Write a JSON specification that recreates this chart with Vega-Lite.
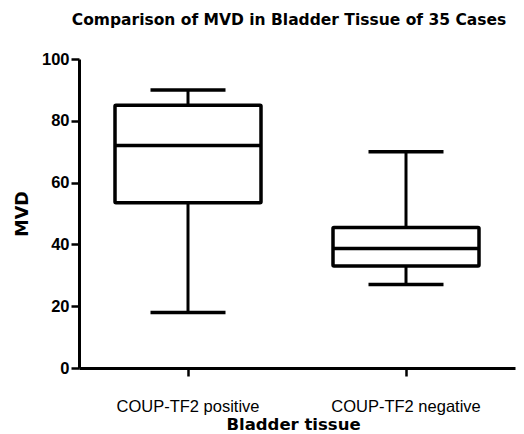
{
  "$schema": "https://vega.github.io/schema/vega-lite/v6.json",
  "width": 436,
  "height": 309,
  "autosize": {"type": "none"},
  "padding": {"left": 79, "top": 59, "right": 9, "bottom": 66},
  "background": "white",
  "title": {
    "text": "Comparison of MVD in Bladder Tissue of 35 Cases",
    "font": "DejaVu Sans",
    "fontSize": 15.5,
    "fontWeight": "bold",
    "color": "black",
    "anchor": "middle",
    "dx": -8,
    "offset": 23
  },
  "config": {
    "view": {"stroke": null},
    "axis": {"grid": false, "domainColor": "black", "tickColor": "black", "labelColor": "black", "titleColor": "black", "labelFont": "Liberation Sans", "titleFont": "DejaVu Sans"}
  },
  "data": {
    "values": [
      {"group": "COUP-TF2 positive", "min": 18, "q1": 53.5, "median": 72, "q3": 85, "max": 90},
      {"group": "COUP-TF2 negative", "min": 27, "q1": 33, "median": 38.7, "q3": 45.5, "max": 70}
    ]
  },
  "encoding": {
    "x": {
      "field": "group",
      "type": "nominal",
      "sort": ["COUP-TF2 positive", "COUP-TF2 negative"],
      "scale": {"paddingInner": 0, "paddingOuter": 0},
      "axis": {
        "title": "Bladder tissue",
        "titleFontSize": 16.5,
        "titleFontWeight": "bold",
        "titlePadding": 2,
        "titleX": 214,
        "labelAngle": 0,
        "labelFontSize": 16.5,
        "labelFontWeight": "normal",
        "labelPadding": 22,
        "domainWidth": 3,
        "tickWidth": 2.5,
        "tickSize": 8
      }
    }
  },
  "layer": [
    {
      "mark": {"type": "rule", "strokeWidth": 3, "color": "black"},
      "encoding": {
        "y": {"field": "min", "type": "quantitative", "scale": {"domain": [0, 100]},
          "axis": {"title": "MVD", "titleFontSize": 17.5, "titleFontWeight": "bold", "titlePadding": 10, "values": [0, 20, 40, 60, 80, 100], "labelFontSize": 16.5, "labelFontWeight": "bold", "labelPadding": 2, "domainWidth": 3, "tickWidth": 2.5, "tickSize": 8}},
        "y2": {"field": "max"}
      }
    },
    {
      "mark": {"type": "bar", "size": 146, "fill": "white", "stroke": "black", "strokeWidth": 3.5, "cornerRadius": 1},
      "encoding": {
        "y": {"field": "q1", "type": "quantitative"},
        "y2": {"field": "q3"}
      }
    },
    {
      "mark": {"type": "tick", "size": 146, "thickness": 3.5, "color": "black", "opacity": 1},
      "encoding": {"y": {"field": "median", "type": "quantitative"}}
    },
    {
      "mark": {"type": "tick", "size": 75, "thickness": 3.5, "color": "black", "opacity": 1},
      "encoding": {"y": {"field": "min", "type": "quantitative"}}
    },
    {
      "mark": {"type": "tick", "size": 75, "thickness": 3.5, "color": "black", "opacity": 1},
      "encoding": {"y": {"field": "max", "type": "quantitative"}}
    }
  ]
}
